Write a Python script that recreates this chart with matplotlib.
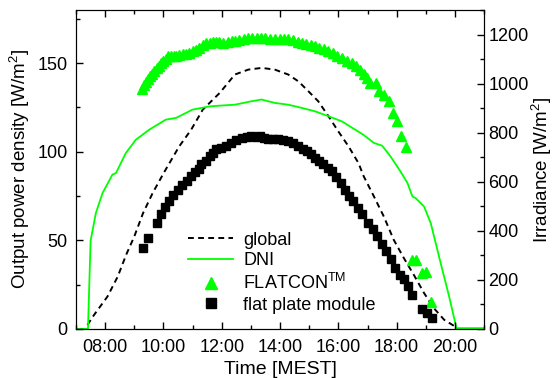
import numpy as np
import matplotlib.pyplot as plt
from matplotlib.ticker import MultipleLocator
from matplotlib.lines import Line2D

plt.rcParams['font.family'] = 'Liberation Sans'
plt.rcParams['mathtext.fontset'] = 'custom'
plt.rcParams['mathtext.rm'] = 'Liberation Sans'
plt.rcParams['mathtext.it'] = 'Liberation Sans'
plt.rcParams['font.size'] = 13

# time of day in hours (MEST)
dni_t = [7.0, 7.41, 7.5, 7.68, 7.91, 8.25, 8.37, 8.71, 9.05, 9.51, 10.08, 10.43,
         11.0, 11.58, 11.92, 12.45, 13.02, 13.36, 13.83, 14.28, 14.74, 15.2,
         15.66, 16.12, 16.58, 16.85, 17.22, 17.5, 17.79, 18.13, 18.37, 18.54,
         18.65, 18.94, 19.17, 19.51, 19.8, 20.0, 20.05, 21.0]
dni = [0, 0, 359, 472, 554, 629, 635, 717, 771, 812, 853, 860,
       894, 907, 910, 914, 928, 935, 921, 914, 901, 887,
       867, 846, 812, 792, 758, 747, 703, 642, 595, 540,
       533, 499, 431, 268, 132, 30, 3, 3]

glob_t = [7.39, 7.62, 8.08, 8.43, 8.72, 9.0, 9.3, 9.63, 10.03, 10.54, 10.95,
          11.35, 11.93, 12.45, 12.91, 13.37, 13.82, 14.28, 14.63, 14.97, 15.31,
          15.66, 16.0, 16.35, 16.69, 16.87, 17.22, 17.56, 17.9, 18.25, 18.59,
          18.94, 19.28, 19.63, 19.97, 20.05]
glob = [16, 57, 132, 213, 302, 377, 472, 554, 640, 744, 812,
        894, 962, 1037, 1057, 1064, 1057, 1037, 1009, 969, 928,
        867, 805, 744, 676, 622, 540, 458, 363, 288, 220,
        146, 84, 37, 12, 0]

flatcon_t = [9.25, 9.33, 9.40, 9.47, 9.54, 9.61, 9.68, 9.77, 9.86, 9.93, 9.99,
             10.07, 10.14, 10.25, 10.35, 10.43, 10.55, 10.66, 10.77, 10.88, 11.0,
             11.12, 11.23, 11.35, 11.46, 11.58, 11.69, 11.80, 11.92, 12.05, 12.2,
             12.35, 12.45, 12.6, 12.75, 12.9, 13.05, 13.2, 13.36, 13.5, 13.65,
             13.83, 14.0, 14.15, 14.28, 14.45, 14.6, 14.74, 14.9, 15.05, 15.2,
             15.35, 15.5, 15.66, 15.8, 15.95, 16.12, 16.3, 16.46, 16.6, 16.75,
             16.87, 16.98, 17.1, 17.28, 17.39, 17.56, 17.73, 17.87, 18.02, 18.16,
             18.33, 18.54, 18.65, 18.88, 19.0, 19.17]
flatcon = [135.6, 137.5, 139.3, 141, 142.7, 144, 145.5, 147, 148.3, 150, 151.1,
           152.5, 154, 154, 154.2, 154, 154.5, 155, 155, 156, 156.8,
           157.5, 158.7, 160, 161.5, 161.6, 161.8, 161.8, 161.8, 161.6, 162,
           162.3, 162.4, 163, 163.6, 164.3, 164, 164.2, 164.3, 164, 163.6,
           163.4, 163.5, 163.7, 163.8, 163, 162.2, 161.5, 160.8, 160.2, 159.6,
           158.7, 157.8, 156.8, 155.6, 154.3, 153, 151.5, 150.2, 148.3, 146.4,
           143.6, 141.5, 139, 139, 134.2, 132.3, 128.6, 122, 117.3, 108.8,
           102.8, 38.8, 38.8, 31.7, 32, 15.1]

flat_t = [9.31, 9.48, 9.77, 9.91, 10.06, 10.2, 10.34, 10.49, 10.64, 10.8, 10.95,
          11.09, 11.23, 11.29, 11.45, 11.58, 11.7, 11.81, 11.99, 12.15, 12.33,
          12.5, 12.68, 12.85, 13.02, 13.17, 13.31, 13.45, 13.6, 13.77, 13.94,
          14.1, 14.28, 14.45, 14.63, 14.77, 14.91, 15.05, 15.2, 15.35, 15.49,
          15.63, 15.77, 15.93, 16.08, 16.24, 16.36, 16.5, 16.67, 16.82, 17.01,
          17.2, 17.33, 17.5, 17.65, 17.79, 17.96, 18.11, 18.25, 18.39, 18.54,
          18.86, 19.03, 19.2]
flat = [45.4, 51.1, 59.9, 64.6, 69, 72.1, 75.3, 78.3, 81, 83.4, 86.2,
        88.5, 90.5, 92.8, 95, 97.5, 99.5, 101.3, 102.3, 103.5, 105,
        106.5, 107.9, 108.3, 108.8, 108.5, 108.8, 107.8, 107, 107.2, 107,
        106.5, 106, 104.7, 103.2, 101.8, 100.3, 98.5, 96.6, 94.7, 92.8,
        91, 89.1, 86, 82.5, 78.5, 75, 72.1, 68.4, 64.6, 59.9,
        56.2, 52.4, 47.7, 43.9, 39.2, 34.5, 30.5, 27.9, 24.2, 19.0,
        11.2, 8.8, 6.3]

hour_ticks = [8, 10, 12, 14, 16, 18, 20]
hour_labels = ['08:00', '10:00', '12:00', '14:00', '16:00', '18:00', '20:00']

green = '#00ff00'

fig = plt.figure(figsize=(5.59, 3.78), dpi=100)
ax = fig.add_axes([0.136, 0.13, 0.730, 0.8435])
ax2 = ax.twinx()

ax2.plot(glob_t, glob, color='black', lw=1.4, dashes=(3, 2.2))
ax2.plot(dni_t, dni, color=green, lw=1.3)
ax.plot(flatcon_t, flatcon, ls='none', marker='^', ms=7.5, color=green, mec=green)
ax.plot(flat_t, flat, ls='none', marker='s', ms=5.2, color='black')

ax.set_zorder(ax2.get_zorder() + 1)
ax.patch.set_visible(False)

ax.set_xlim(7, 21)
ax.set_ylim(0, 180)
ax2.set_ylim(0, 1300)
ax.set_xticks(hour_ticks)
ax.set_xticklabels(hour_labels)
ax.xaxis.set_minor_locator(MultipleLocator(1))
ax.yaxis.set_major_locator(MultipleLocator(50))
ax.yaxis.set_minor_locator(MultipleLocator(25))
ax2.yaxis.set_major_locator(MultipleLocator(200))
ax2.yaxis.set_minor_locator(MultipleLocator(100))

ax.tick_params(which='both', direction='in', top=True, right=False, width=1)
ax.tick_params(which='major', length=5)
ax.tick_params(axis='x', which='major', pad=7)
ax.tick_params(axis='y', which='major', pad=6)
ax.tick_params(which='minor', length=3)
ax2.tick_params(which='both', direction='in', width=1)
ax2.tick_params(which='major', length=5, pad=3)
ax2.tick_params(which='minor', length=3)

ax.set_xlabel('Time [MEST]', fontsize=14, labelpad=4)
ax.set_ylabel('Output power density [W/m$^2$]', fontsize=13.5, labelpad=4)
ax2.set_ylabel('Irradiance [W/m$^2$]', fontsize=13.5, labelpad=1)

handles = [Line2D([], [], color='black', lw=1.4, dashes=(3, 2.2)),
           Line2D([], [], color=green, lw=1.3),
           Line2D([], [], ls='none', marker='^', ms=9, color=green),
           Line2D([], [], ls='none', marker='s', ms=6.5, color='black')]
labels = ['global', 'DNI', 'FLATCON$^{\\rm TM}$', 'flat plate module']
ax.legend(handles, labels, loc='upper left', bbox_to_anchor=(0.275, 0.305),
          frameon=False, handlelength=2.5, handletextpad=0.55,
          labelspacing=0.2, borderpad=0, borderaxespad=0)

fig.savefig('out.png', dpi=100)
